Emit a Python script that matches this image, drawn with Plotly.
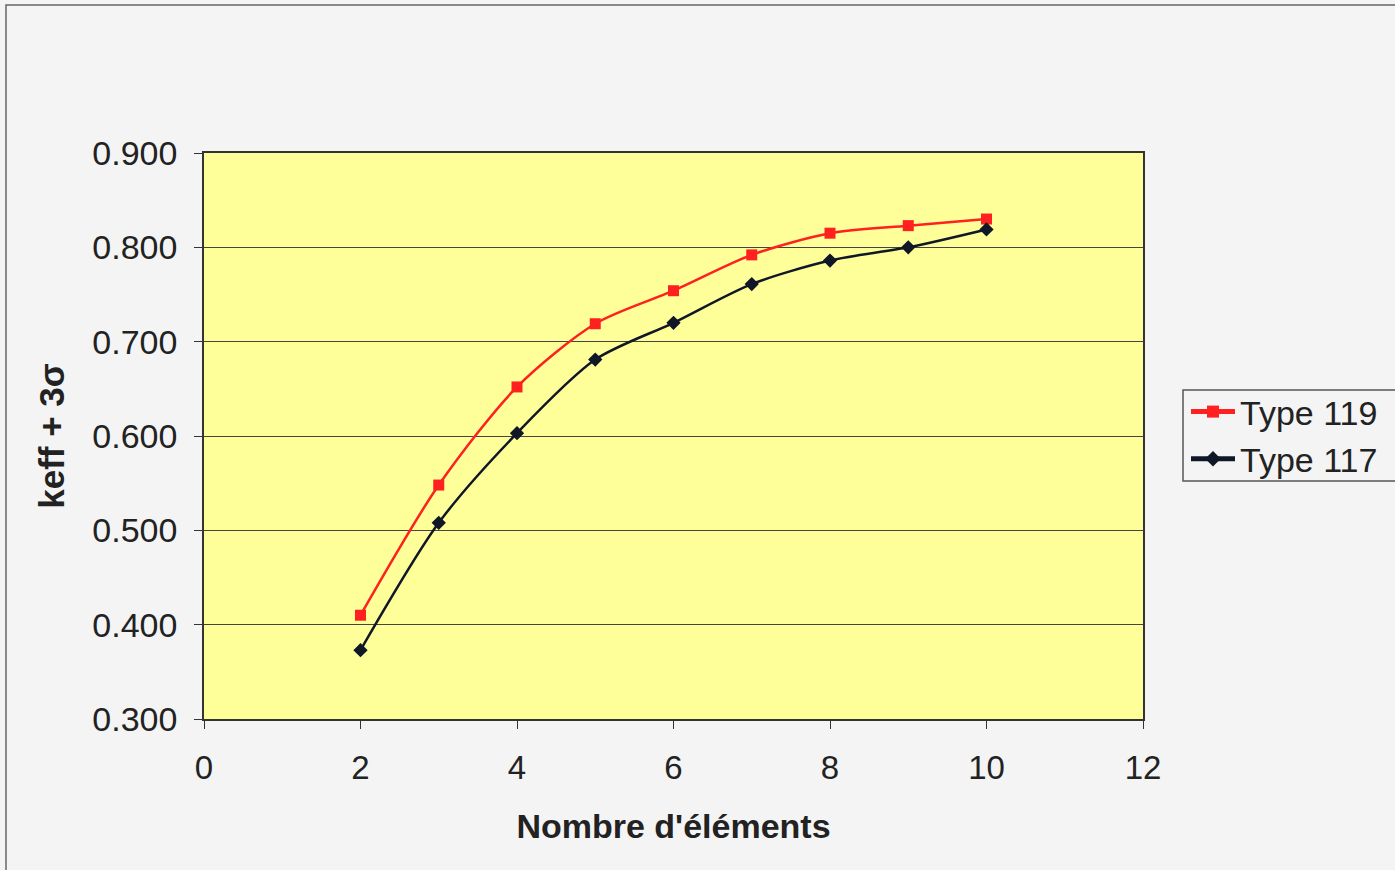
import plotly.graph_objects as go

elements = [2, 3, 4, 5, 6, 7, 8, 9, 10]
type119 = [0.410, 0.548, 0.652, 0.719, 0.754, 0.792, 0.815, 0.823, 0.830]
type117 = [0.373, 0.508, 0.603, 0.681, 0.720, 0.761, 0.786, 0.800, 0.819]
x_ticks = [0, 2, 4, 6, 8, 10, 12]
y_ticks = [0.3, 0.4, 0.5, 0.6, 0.7, 0.8, 0.9]

W, H = 1395, 870
L, R, T, B = 204, 1143, 153, 719

def px(x):
    return (x - L) / (R - L)

def py(y):
    return (B - y) / (B - T)

fig = go.Figure()
fig.add_trace(go.Scatter(
    x=elements, y=type119, name="Type 119", mode="lines+markers",
    line=dict(color="#ff2020", width=2.5, shape="spline", smoothing=0.8),
    marker=dict(symbol="square", size=11, color="#ff2020"),
))
fig.add_trace(go.Scatter(
    x=elements, y=type117, name="Type 117", mode="lines+markers",
    line=dict(color="#101828", width=2.5, shape="spline", smoothing=0.8),
    marker=dict(symbol="diamond", size=11, color="#101828"),
))

font_family = "Liberation Sans, Arial, sans-serif"
fig.update_layout(
    width=W, height=H,
    margin=dict(l=L, r=W - R, t=T, b=H - B),
    paper_bgcolor="#f4f4f4",
    plot_bgcolor="#ffff99",
    font=dict(family=font_family, color="#222222", size=34),
    showlegend=True,
    legend=dict(
        x=px(1186), y=py(383), xanchor="left", yanchor="top",
        bgcolor="rgba(0,0,0,0)", borderwidth=0,
        font=dict(size=34, family=font_family, color="#222222"),
        tracegroupgap=0, itemsizing="constant", itemwidth=44,
    ),
    xaxis=dict(
        range=[0, 12], tickvals=x_ticks, ticktext=[str(v) for v in x_ticks],
        showgrid=False, zeroline=False,
        showline=True, linecolor="#333333", linewidth=1.5, mirror=True,
        ticks="outside", ticklen=8, tickcolor="#333333",
        tickfont=dict(size=33), ticklabelstandoff=11,
        title=dict(text="<b>Nombre d'éléments</b>", font=dict(size=34), standoff=29),
    ),
    yaxis=dict(
        range=[0.3, 0.9], tickvals=y_ticks, ticktext=[f"{v:.3f}" for v in y_ticks],
        showgrid=True, gridcolor="#444444", gridwidth=1,
        zeroline=False,
        showline=True, linecolor="#333333", linewidth=1.5, mirror=True,
        ticks="outside", ticklen=8, tickcolor="#333333",
        tickfont=dict(size=34), ticklabelstandoff=10,
        title=dict(text="<b>keff + 3σ</b>", font=dict(size=35), standoff=17),
    ),
)

# outer chart border
fig.add_shape(type="rect", xref="paper", yref="paper",
              x0=px(6), x1=px(1420), y0=py(5), y1=py(880),
              line=dict(color="#666666", width=1.5), fillcolor="rgba(0,0,0,0)",
              layer="below")
# legend box
fig.add_shape(type="rect", xref="paper", yref="paper",
              x0=px(1183), x1=px(1420), y0=py(390), y1=py(481),
              line=dict(color="#555555", width=1.5), fillcolor="rgba(0,0,0,0)",
              layer="above")

fig.write_html("out.html")
